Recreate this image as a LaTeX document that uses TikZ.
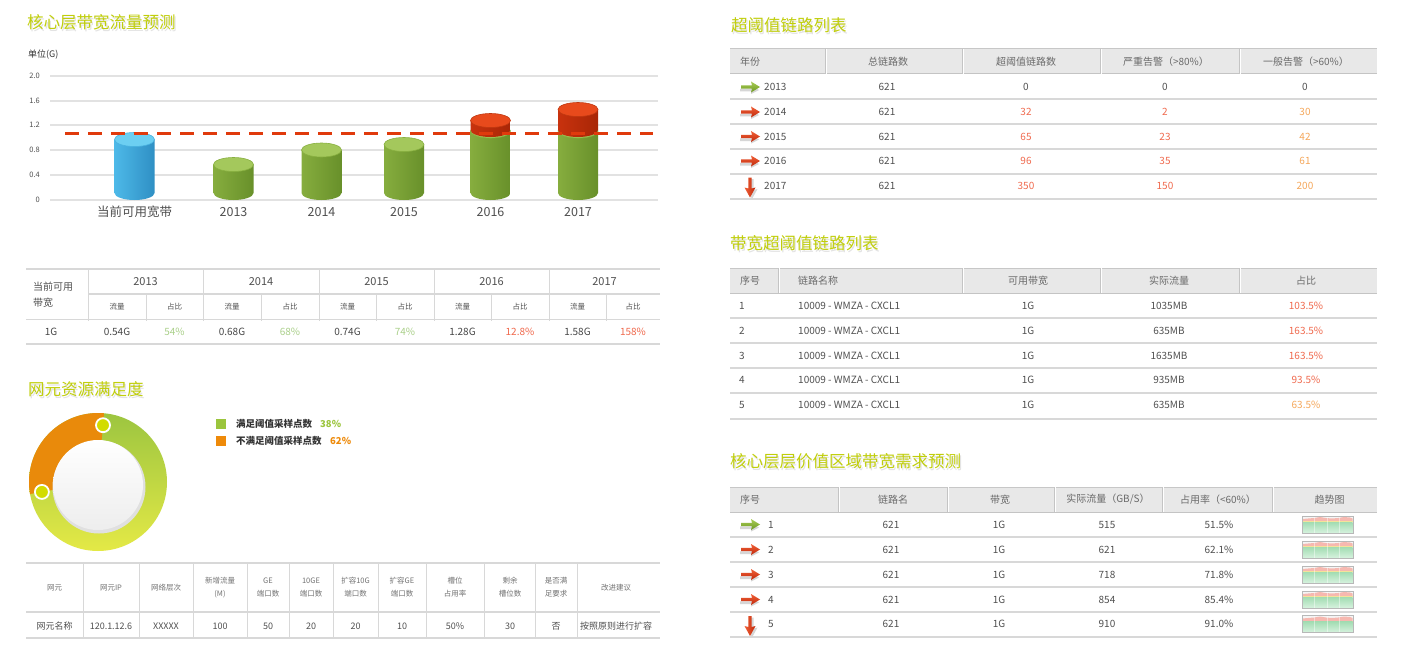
\documentclass[tikz,border=0pt]{standalone}
\usepackage{fontspec}
\setmainfont{Noto Sans CJK SC}
\definecolor{ttlc}{HTML}{C0CE0A}
\definecolor{txtc}{HTML}{505050}
\definecolor{hdrc}{HTML}{6A6A6A}
\definecolor{gridc}{HTML}{E2E2E2}
\definecolor{linc}{HTML}{D8D8D8}
\definecolor{hotc}{HTML}{F06A4E}
\definecolor{warmc}{HTML}{F5A75A}
\definecolor{okc}{HTML}{AAD08A}
\definecolor{hdbgc}{HTML}{E8E8E8}
\definecolor{hdlnc}{HTML}{C4C4C4}
\definecolor{dashc}{HTML}{E03A0C}
\definecolor{legg}{HTML}{9BC53D}
\definecolor{lego}{HTML}{EE8A0A}
\definecolor{ringo}{HTML}{E98A0B}
\definecolor{ringg1}{HTML}{9CC540}
\definecolor{ringg2}{HTML}{E4E946}
\definecolor{markc}{HTML}{D2DC00}
\definecolor{bl1}{HTML}{4DB9E8}
\definecolor{bl2}{HTML}{66CCF2}
\definecolor{bl3}{HTML}{2F8FC4}
\definecolor{blt}{HTML}{6CCFF2}
\definecolor{bld}{HTML}{48B2E0}
\definecolor{gr1}{HTML}{86AD3E}
\definecolor{gr2}{HTML}{A0C656}
\definecolor{gr3}{HTML}{68902A}
\definecolor{grt}{HTML}{A4C85C}
\definecolor{grd}{HTML}{88B040}
\definecolor{rd1}{HTML}{C8320E}
\definecolor{rd2}{HTML}{DE4416}
\definecolor{rd3}{HTML}{A82606}
\definecolor{rdt}{HTML}{E84A1C}
\definecolor{rdd}{HTML}{C03810}
\definecolor{agt}{HTML}{A8CC55}
\definecolor{agb}{HTML}{6D9822}
\definecolor{art}{HTML}{F06038}
\definecolor{arb}{HTML}{C0280A}
\definecolor{sparkpink}{HTML}{F6B8B0}
\definecolor{sparkyel}{HTML}{F3E39A}
\definecolor{sparkg1}{HTML}{A2DCB2}
\definecolor{sparkg2}{HTML}{D6F2DE}

\newcommand\mycyl[4]{%
  \path[#4body] (#1-20,#2) -- (#1-20,#3) arc[start angle=180,end angle=0,x radius=20,y radius=7] -- (#1+20,#2) -- cycle;
  \path[#4top] (#1,#2) ellipse[x radius=20,y radius=7];}
\newcommand\rarrowicon[3]{%
  \begin{scope}[shift={(#1,#2)}]
    \fill[black!16] (-1,1.8) -- (10,1.8) -- (10,-1) -- (18,3) -- (10,7) -- (10,4.5) -- (-1,4.5) -- cycle;
    \path[top color=#3t,bottom color=#3b] (0,-1.6) -- (11,-1.6) -- (10,-5.5) -- (19,0) -- (10,5.5) -- (11,1.6) -- (0,1.6) -- cycle;
  \end{scope}}
\newcommand\darrowicon[2]{%
  \begin{scope}[shift={(#1,#2)}]
    \fill[black!16] (0.5,-6.5) -- (3.5,-6.5) -- (3.5,4.5) -- (7.5,3.5) -- (2,13.5) -- (-3,3.5) -- (0.5,4.5) -- cycle;
    \path[left color=art,right color=arb] (-1.6,-8) -- (1.6,-8) -- (1.6,3) -- (5.5,2) -- (0,12) -- (-5.5,2) -- (-1.6,3) -- cycle;
  \end{scope}}
\newcommand\sparkicon[1]{%
  \begin{scope}[shift={(1302,#1)}]
    \fill[black!4] (0,-8.5) rectangle (51,8.5);
    \fill[sparkpink] (0.5,-3) -- (0.5,-5.5) -- (6,-6) -- (12,-6.5) -- (18,-7.5) -- (24,-6.5) -- (30,-6) -- (36,-6.5) -- (42,-7.5) -- (48,-7) -- (50.5,-6) -- (50.5,-3) -- cycle;
    \fill[sparkyel] (0.5,-3.5) rectangle (50.5,-2.5);
    \path[top color=sparkg1,bottom color=sparkg2] (0.5,-2.5) rectangle (50.5,8.5);
    \foreach \vx in {12.5,25,37.5} \draw[white,opacity=.45,line width=.4pt] (\vx,-8.5) -- (\vx,8.5);
    \draw[black!28,line width=.8pt] (0,-8.5) rectangle (51,8.5);
  \end{scope}}

\begin{document}
\begin{tikzpicture}[x=1pt,y=-1pt,
  ttl/.style={anchor=west,inner sep=0pt,font=\fontsize{16.5}{18}\selectfont,text=ttlc},
  ttlsh/.style={ttl,text=black!11},
  axl/.style={anchor=east,inner sep=0pt,font=\fontsize{7.5}{8}\selectfont,text=txtc},
  unitl/.style={anchor=west,inner sep=0pt,font=\fontsize{9}{10}\selectfont,text=black!80},
  xlab/.style={inner sep=0pt,font=\fontsize{12.5}{14}\selectfont,text=txtc},
  gridln/.style={draw=gridc,line width=1.3pt},
  dashln/.style={draw=dashc,line width=3pt,dash pattern=on 14pt off 9pt},
  blubody/.style={left color=bl1,middle color=bl2,right color=bl3},
  blutop/.style={fill=blt,draw=bld,line width=.6pt},
  grnbody/.style={left color=gr1,middle color=gr2,right color=gr3},
  grntop/.style={fill=grt,draw=grd,line width=.6pt},
  redbody/.style={left color=rd1,middle color=rd2,right color=rd3},
  redtop/.style={fill=rdt,draw=rdd,line width=.6pt},
  tln/.style={draw=linc,line width=1.1pt},
  tvln/.style={draw=linc,line width=.8pt},
  t1hd/.style={inner sep=0pt,font=\fontsize{11}{12}\selectfont,text=txtc},
  t1lab/.style={anchor=west,inner sep=0pt,font=\fontsize{10}{11}\selectfont,text=txtc},
  t1sub/.style={inner sep=0pt,font=\fontsize{7.5}{8}\selectfont,text=txtc},
  t1val/.style={inner sep=0pt,font=\fontsize{10}{11}\selectfont,text=black!72},
  leg/.style={anchor=west,inner sep=0pt,font=\bfseries\fontsize{9.5}{10}\selectfont,text=black!80},
  t2hd/.style={inner sep=0pt,align=center,font=\fontsize{7.5}{13}\selectfont,text=black!55},
  t2val/.style={inner sep=0pt,font=\fontsize{9}{10}\selectfont,text=txtc},
  rhd/.style={inner sep=0pt,font=\fontsize{10}{11}\selectfont,text=hdrc},
  rval/.style={inner sep=0pt,font=\fontsize{10}{11}\selectfont,text=txtc},
  hdbox/.style={fill=hdbgc},
  hdtopln/.style={draw=black!22,line width=1pt},
  hdsep/.style={draw=hdlnc,line width=1pt},
  rowln/.style={draw=linc,line width=1.3pt}]

\fill[white] (0,0) rectangle (1418,666);
\useasboundingbox (0,0) rectangle (1418,666);

% ---------------- titles
\node[ttlsh] (t1s) at (28.2,24) {核心层带宽流量预测};
\node[ttl] (t1) at (27,22) {核心层带宽流量预测};
\node[ttlsh] (t2s) at (29.2,391) {网元资源满足度};
\node[ttl] (t2) at (28,389) {网元资源满足度};
\node[ttlsh] (t3s) at (732.2,27) {超阈值链路列表};
\node[ttl] (t3) at (731,25) {超阈值链路列表};
\node[ttlsh] (t4s) at (731.2,245) {带宽超阈值链路列表};
\node[ttl] (t4) at (730,243) {带宽超阈值链路列表};
\node[ttlsh] (t5s) at (731.2,463.5) {核心层层价值区域带宽需求预测};
\node[ttl] (t5) at (730,461.5) {核心层层价值区域带宽需求预测};

% ---------------- bar chart
\node[unitl] (unit) at (28,55) {单位(G)};
\foreach \yy/\lab [count=\i] in {76/2.0,101/1.6,125/1.2,150/0.8,175/0.4,200/0} {
  \draw[gridln] (50,\yy) -- (658,\yy);
  \node[axl] (yl\i) at (40,\yy) {\lab};
}
\mycyl{134.5}{139.5}{193}{blu}
\mycyl{233.5}{164.5}{193}{grn}
\mycyl{321.5}{150}{193}{grn}
\mycyl{404}{144.5}{193}{grn}
\mycyl{490.5}{131}{193}{grn}
\mycyl{490.5}{120.5}{130}{red}
\mycyl{578}{131}{193}{grn}
\mycyl{578}{109.5}{130}{red}
\coordinate (dl) at (65,134);
\coordinate (dr) at (653,134);
\draw[dashln] (dl) -- (dr);
\foreach \xx/\lab [count=\i] in {134.5/当前可用宽带,233.5/2013,321.5/2014,404/2015,490.5/2016,578/2017}
  \node[xlab] (xl\i) at (\xx,212) {\lab};

% ---------------- table 1
\draw[tln] (26,269) -- (660,269);
\draw[tln] (88,294) -- (660,294);
\draw[tln] (26,319.5) -- (660,319.5);
\draw[tln] (26,344) -- (660,344);
\foreach \xx in {88,203,319,434,549} \draw[tvln] (\xx,269) -- (\xx,321);
\foreach \xx in {146,261,376,491,606} \draw[tvln] (\xx,294) -- (\xx,321);
\node[t1lab] (c1a) at (33,287) {当前可用};
\node[t1lab] (c1b) at (33,303) {带宽};
\foreach \xx/\yr [count=\i] in {145.5/2013,261/2014,376.5/2015,491.5/2016,604.5/2017}
  \node[t1hd] (yr\i) at (\xx,282) {\yr};
\foreach \xa/\xb [count=\i] in {117/174.5,232/290,347.5/405,462.5/520,577.5/633} {
  \node[t1sub] (fl\i) at (\xa,307) {流量};
  \node[t1sub] (zb\i) at (\xb,307) {占比};
}
\node[t1val] (v0) at (51,332) {1G};
\foreach \xa/\xb/\va/\vb/\cc [count=\i] in {117/174.5/0.54G/54\%/okc,232/290/0.68G/68\%/okc,347.5/405/0.74G/74\%/okc,462.5/520/1.28G/12.8\%/hotc,577.5/633/1.58G/158\%/hotc} {
  \node[t1val] (va\i) at (\xa,332) {\va};
  \node[t1val,text=\cc] (vb\i) at (\xb,332) {\vb};
}

% ---------------- donut
\path[top color=ringg1,bottom color=ringg2] (98,482) circle[radius=69];
\fill[ringo] (98,482) -- ++(-85:69) arc[start angle=-85,end angle=-190,radius=69] -- cycle;
\fill[black!12] (99,487) circle[radius=46.5];
\path[top color=white,bottom color=black!7] (98,485) circle[radius=45];
\draw[white,line width=1.8pt,fill=markc] (103,425.2) circle[radius=7];
\draw[white,line width=1.8pt,fill=markc] (41.9,491.9) circle[radius=7];
\fill[legg] (216,419) rectangle (226,429);
\fill[lego] (216,436) rectangle (226,446);
\node[leg] (lg1) at (236,424) {满足阈值采样点数};
\node[leg,text=legg] (lg1p) at (320,424) {38\%};
\node[leg] (lg2) at (236,441) {不满足阈值采样点数};
\node[leg,text=lego] (lg2p) at (330,441) {62\%};

% ---------------- table 2 (bottom left)
\draw[tln] (26,563) -- (660,563);
\draw[tln] (26,612) -- (660,612);
\draw[tln] (26,638) -- (660,638);
\foreach \xx in {83,139.5,193,247,289,333,378,426,484,535.5,577} \draw[tvln] (\xx,563) -- (\xx,638);
\foreach \xx/\lab [count=\i] in {54.5/{网元},111/{网元IP},166/{网络层次},220/{新增流量\\(M)},268/{GE\\端口数},311/{10GE\\端口数},355.5/{扩容10G\\端口数},402/{扩容GE\\端口数},455/{槽位\\占用率},510/{剩余\\槽位数},556/{是否满\\足要求},616/{改进建议}}
  \node[t2hd] (h2\i) at (\xx,587.5) {\lab};
\foreach \xx/\lab [count=\i] in {54.5/网元名称,111/120.1.12.6,166/XXXXX,220/100,268/50,311/20,355.5/20,402/10,455/50\%,510/30,556/否,616/按照原则进行扩容}
  \node[t2val] (d2\i) at (\xx,626) {\lab};

% ---------------- table A (top right)
\fill[hdbox] (730,49) rectangle (1377,74);
\draw[hdtopln] (730,49) -- (1377,49);
\draw[hdsep] (730,74) -- (1377,74);
\foreach \xx in {825,962,1100,1239} {\draw[hdsep] (\xx,49) -- (\xx,74); \draw[white,line width=.8pt] (\xx+1,49) -- (\xx+1,74);}
\foreach \yy in {99,124,149,174,199} \draw[rowln] (730,\yy) -- (1377,\yy);
\node[rhd,anchor=west] (ah1) at (740,62) {年份};
\node[rhd] (ah2) at (888,62) {总链路数};
\node[rhd] (ah3) at (1026,62) {超阈值链路数};
\node[rhd] (ah4) at (1166,62) {严重告警（>80\%）};
\node[rhd] (ah5) at (1306,62) {一般告警（>60\%）};
\foreach \yr/\yc/\va/\vb/\vc/\ca/\cb [count=\i] in {2013/87/0/0/0/txtc/txtc,2014/112/32/2/30/hotc/warmc,2015/136.5/65/23/42/hotc/warmc,2016/161/96/35/61/hotc/warmc,2017/185.5/350/150/200/hotc/warmc} {
  \node[rval,anchor=west] (a\i y) at (764,\yc) {\yr};
  \node[rval] (a\i n) at (887,\yc) {621};
  \node[rval,text=\ca] (a\i a) at (1026,\yc) {\va};
  \node[rval,text=\ca] (a\i b) at (1165,\yc) {\vb};
  \node[rval,text=\cb] (a\i c) at (1305,\yc) {\vc};
}
\rarrowicon{741}{87}{ag}
\rarrowicon{741}{112}{ar}
\rarrowicon{741}{136.5}{ar}
\rarrowicon{741}{161}{ar}
\darrowicon{750}{185.5}

% ---------------- table B (middle right)
\fill[hdbox] (730,268) rectangle (1377,293);
\draw[hdtopln] (730,268) -- (1377,268);
\draw[hdsep] (730,293) -- (1377,293);
\foreach \xx in {778,962,1100,1239} {\draw[hdsep] (\xx,268) -- (\xx,293); \draw[white,line width=.8pt] (\xx+1,268) -- (\xx+1,293);}
\foreach \yy in {318,343,368,393,419} \draw[rowln] (730,\yy) -- (1377,\yy);
\node[rhd,anchor=west] (bh1) at (740,281) {序号};
\node[rhd,anchor=west] (bh2) at (798,281) {链路名称};
\node[rhd] (bh3) at (1028,281) {可用带宽};
\node[rhd] (bh4) at (1169,281) {实际流量};
\node[rhd] (bh5) at (1306,281) {占比};
\foreach \yc/\fl/\pc/\cc [count=\i] in {306/1035MB/103.5\%/hotc,330.5/635MB/163.5\%/hotc,355.5/1635MB/163.5\%/hotc,380/935MB/93.5\%/hotc,405/635MB/63.5\%/warmc} {
  \node[rval] (b\i a) at (742,\yc) {\i};
  \node[rval,anchor=west] (b\i b) at (798,\yc) {10009 - WMZA - CXCL1};
  \node[rval] (b\i c) at (1028,\yc) {1G};
  \node[rval] (b\i d) at (1169,\yc) {\fl};
  \node[rval,text=\cc] (b\i e) at (1306,\yc) {\pc};
}

% ---------------- table C (bottom right)
\fill[hdbox] (730,487) rectangle (1377,512);
\draw[hdtopln] (730,487) -- (1377,487);
\draw[hdsep] (730,512) -- (1377,512);
\foreach \xx in {838,947,1054,1162,1272} {\draw[hdsep] (\xx,487) -- (\xx,512); \draw[white,line width=.8pt] (\xx+1,487) -- (\xx+1,512);}
\foreach \yy in {537,562,587,612,637} \draw[rowln] (730,\yy) -- (1377,\yy);
\node[rhd,anchor=west] (ch1) at (740,499.5) {序号};
\node[rhd] (ch2) at (893,499.5) {链路名};
\node[rhd] (ch3) at (1000,499.5) {带宽};
\node[rhd] (ch4) at (1108,499.5) {实际流量（GB/S）};
\node[rhd] (ch5) at (1218,499.5) {占用率（<60\%）};
\node[rhd] (ch6) at (1329.5,499.5) {趋势图};
\foreach \yc/\fl/\pc [count=\i] in {524.5/515/51.5\%,549.5/621/62.1\%,574.5/718/71.8\%,599.5/854/85.4\%,624/910/91.0\%} {
  \node[rval] (c\i a) at (771,\yc) {\i};
  \node[rval] (c\i b) at (891,\yc) {621};
  \node[rval] (c\i c) at (999,\yc) {1G};
  \node[rval] (c\i d) at (1107,\yc) {\fl};
  \node[rval] (c\i e) at (1219,\yc) {\pc};
  \sparkicon{\yc}
}
\rarrowicon{741}{524.5}{ag}
\rarrowicon{741}{549.5}{ar}
\rarrowicon{741}{574.5}{ar}
\rarrowicon{741}{599.5}{ar}
\darrowicon{750}{624}
\end{tikzpicture}
\end{document}
